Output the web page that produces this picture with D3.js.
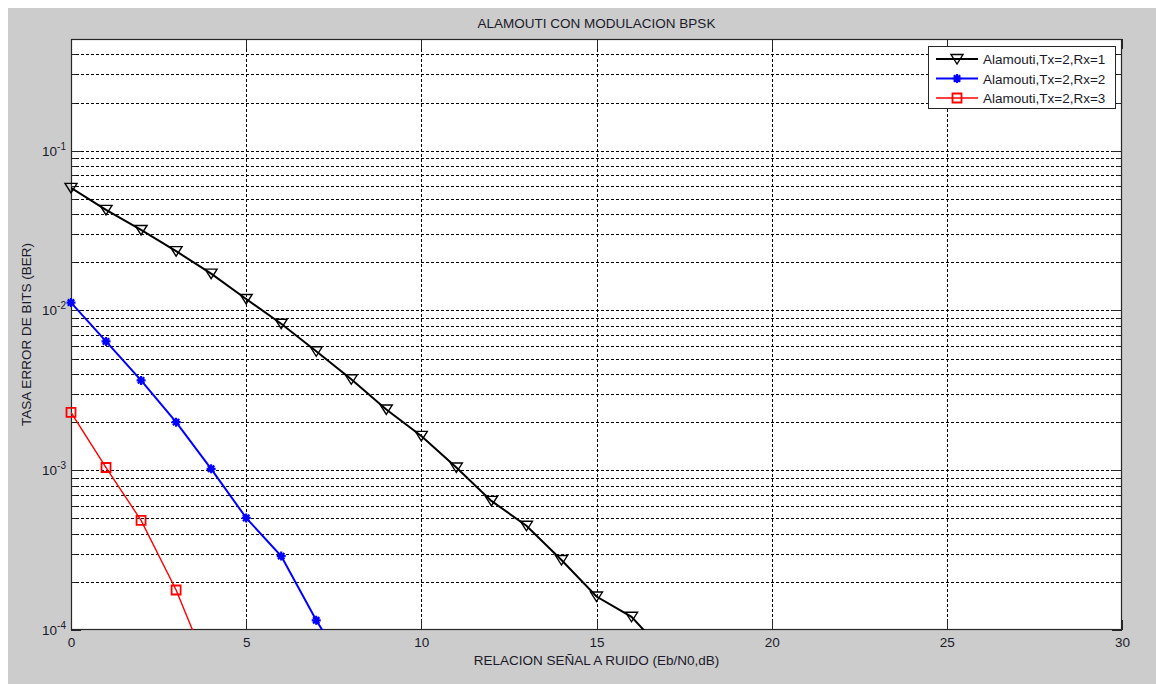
<!DOCTYPE html>
<html>
<head>
<meta charset="utf-8">
<script src="https://cdn.jsdelivr.net/npm/d3@7/dist/d3.min.js"></script>
<style>
  html, body { margin: 0; padding: 0; background: #ffffff; }
  svg { display: block; font-family: "Liberation Sans", Arial, sans-serif; }
</style>
</head>
<body>
<svg id="chart" width="1156" height="684"></svg>
<script>
// ---- data ----
const title = "ALAMOUTI CON MODULACION BPSK";
const xLabel = "RELACION SEÑAL A RUIDO (Eb/N0,dB)";
const yLabel = "TASA ERROR DE BITS (BER)";
const seriesNames = ["Alamouti,Tx=2,Rx=1", "Alamouti,Tx=2,Rx=2", "Alamouti,Tx=2,Rx=3"];
const snrRx1 = [0,1,2,3,4,5,6,7,8,9,10,11,12,13,14,15,16,17];
const berRx1 = [0.0585,0.0426,0.0319,0.0235,0.0170,0.0118,0.00826,0.00555,0.00371,0.00240,0.00164,0.00104,0.000643,0.000449,0.000274,0.000162,0.000121,0.000070];
const snrRx2 = [0,1,2,3,4,5,6,7,8];
const berRx2 = [0.0112,0.0064,0.00365,0.00200,0.00102,0.000503,0.000290,0.000115,0.000051];
const snrRx3 = [0,1,2,3,4];
const berRx3 = [0.00230,0.00104,0.000485,0.000178,0.000052];
const xTicks = [0,5,10,15,20,25,30];
const yDecades = [-4,-3,-2,-1];

const colors = ["#000000", "#0000ff", "#ff0000"];
const lineWidths = [2, 2, 1.4];
const markers = ["tri", "star", "square"];

// ---- layout ----
const svg = d3.select("#chart");
const L = 71, R = 1122, T = 39, B = 630;
const x = d3.scaleLinear().domain([0, 30]).range([L, R]);
const y = d3.scaleLog().domain([1e-4, 0.5]).range([B, T]);
const axisColor = "#262626";
const textColor = "#1a1a2a";
const fs = 13.5;

svg.append("rect").attr("x", 8).attr("y", 8).attr("width", 1148).attr("height", 676).attr("fill", "#cccccc");
svg.append("rect").attr("x", L).attr("y", T).attr("width", R - L).attr("height", B - T).attr("fill", "#ffffff");

// grid
const grid = svg.append("g").attr("stroke", "#000").attr("stroke-width", 1).attr("stroke-dasharray", "3,2");
const minorVals = [];
yDecades.forEach(d => { for (let m = 1; m <= 9; m++) { const v = m * Math.pow(10, d); if (v > 1e-4 * 1.0001 && v < 0.5 * 0.9999) minorVals.push(v); } });
minorVals.forEach(v => {
  grid.append("line").attr("x1", L).attr("x2", R).attr("y1", Math.round(y(v)) + 0.5).attr("y2", Math.round(y(v)) + 0.5);
});
xTicks.filter(t => t > 0 && t < 30).forEach(t => {
  grid.append("line").attr("x1", Math.round(x(t)) + 0.5).attr("x2", Math.round(x(t)) + 0.5).attr("y1", T).attr("y2", B);
});

// ticks
const ticks = svg.append("g").attr("stroke", axisColor).attr("stroke-width", 1);
xTicks.forEach(t => {
  const px = Math.round(x(t)) + 0.5;
  ticks.append("line").attr("x1", px).attr("x2", px).attr("y1", B).attr("y2", B - 10);
  ticks.append("line").attr("x1", px).attr("x2", px).attr("y1", T).attr("y2", T + 10);
});
minorVals.concat([1e-4]).forEach(v => {
  const py = Math.round(y(v)) + 0.5;
  const isMajor = Math.abs(Math.log10(v) - Math.round(Math.log10(v))) < 1e-9;
  const len = isMajor ? 10 : 5;
  ticks.append("line").attr("x1", L).attr("x2", L + len).attr("y1", py).attr("y2", py);
  ticks.append("line").attr("x1", R).attr("x2", R - len).attr("y1", py).attr("y2", py);
});

// x axis labels via d3 axis (text only)
const xAxisG = svg.append("g").attr("transform", `translate(0,${B})`)
  .call(d3.axisBottom(x).tickValues(xTicks).tickSize(0).tickPadding(7).tickFormat(d3.format("d")));
xAxisG.select(".domain").remove();
xAxisG.selectAll("text").attr("font-size", fs).attr("fill", textColor).attr("font-family", "Liberation Sans, Arial, sans-serif");

// y tick labels: 10^d
yDecades.forEach(d => {
  const py = y(Math.pow(10, d));
  const t = svg.append("text").attr("x", L - 5).attr("y", py + 5).attr("text-anchor", "end")
    .attr("font-size", fs).attr("fill", textColor);
  t.append("tspan").text("10");
  t.append("tspan").attr("dy", -6).attr("font-size", 10).text(String(d));
});

// axis box
svg.append("rect").attr("x", L + 0.5).attr("y", T + 0.5).attr("width", R - L - 1).attr("height", B - T - 1)
  .attr("fill", "none").attr("stroke", axisColor).attr("stroke-width", 1.2);

// clip
svg.append("clipPath").attr("id", "plotclip").append("rect").attr("x", L).attr("y", T).attr("width", R - L).attr("height", B - T);

function markerPath(kind) {
  if (kind === "tri") return "M-6,-4.5L6,-4.5L0,5Z";
  if (kind === "square") return "M-4.5,-4.5L4.5,-4.5L4.5,4.5L-4.5,4.5Z";
  return "M-4.5,0L4.5,0M0,-4.5L0,4.5M-3.2,-3.2L3.2,3.2M-3.2,3.2L3.2,-3.2";
}

const allSeries = [
  { xs: snrRx1, ys: berRx1 },
  { xs: snrRx2, ys: berRx2 },
  { xs: snrRx3, ys: berRx3 }
];
const line = d3.line().x(d => x(d[0])).y(d => y(d[1]));
allSeries.forEach((s, i) => {
  const pts = s.xs.map((v, k) => [v, s.ys[k]]);
  svg.append("path").datum(pts).attr("d", line).attr("fill", "none")
    .attr("stroke", colors[i]).attr("stroke-width", lineWidths[i]).attr("clip-path", "url(#plotclip)");
  svg.append("g").selectAll("path").data(pts.filter(p => p[1] >= 1e-4 && p[1] <= 0.5)).join("path")
    .attr("transform", p => `translate(${x(p[0])},${y(p[1])})`)
    .attr("d", markerPath(markers[i]))
    .attr("fill", "none").attr("stroke", colors[i])
    .attr("stroke-width", markers[i] === "star" ? 2.2 : (markers[i] === "square" ? 1.8 : 1.4));
});

// legend
const lg = svg.append("g");
lg.append("rect").attr("x", 928.5).attr("y", 46.5).attr("width", 187).attr("height", 62)
  .attr("fill", "#ffffff").attr("stroke", axisColor).attr("stroke-width", 1);
seriesNames.forEach((name, i) => {
  const ly = 59 + i * 19.5;
  lg.append("line").attr("x1", 936).attr("x2", 978).attr("y1", ly).attr("y2", ly)
    .attr("stroke", colors[i]).attr("stroke-width", lineWidths[i]);
  lg.append("path").attr("transform", `translate(957,${ly})`).attr("d", markerPath(markers[i]))
    .attr("fill", "none").attr("stroke", colors[i])
    .attr("stroke-width", markers[i] === "star" ? 2.2 : (markers[i] === "square" ? 1.8 : 1.4));
  lg.append("text").attr("x", 983).attr("y", ly + 5).attr("font-size", fs).attr("fill", textColor).text(name);
});

// title & labels
svg.append("text").attr("x", (L + R) / 2).attr("y", 28).attr("text-anchor", "middle")
  .attr("font-size", fs).attr("fill", textColor).text(title);
svg.append("text").attr("x", (L + R) / 2).attr("y", 665).attr("text-anchor", "middle")
  .attr("font-size", fs).attr("fill", textColor).text(xLabel);
svg.append("text").attr("transform", `translate(31,${(T + B) / 2}) rotate(-90)`).attr("text-anchor", "middle")
  .attr("font-size", fs).attr("fill", textColor).text(yLabel);
</script>
</body>
</html>
